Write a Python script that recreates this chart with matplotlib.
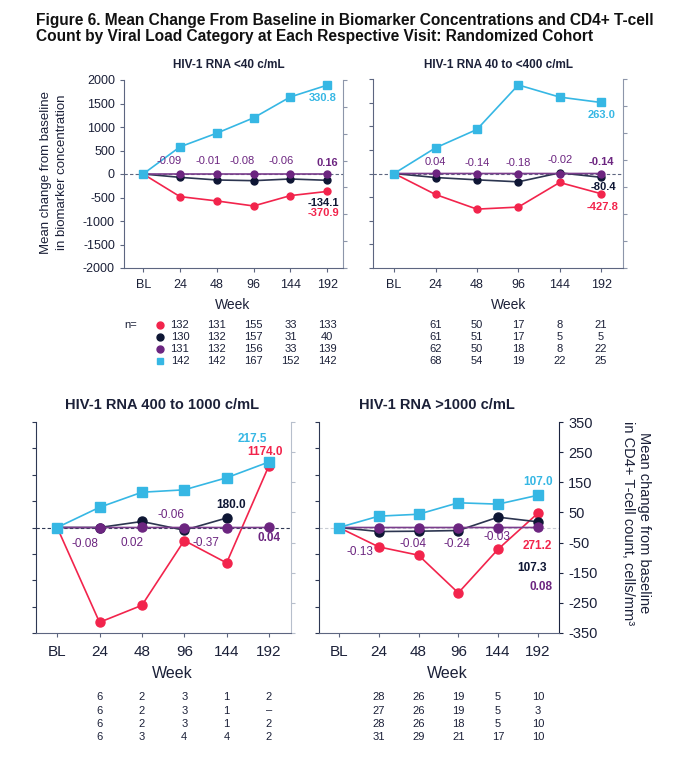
import numpy as np
import matplotlib
matplotlib.use('Agg')
import matplotlib.pyplot as plt
from matplotlib import transforms

plt.rcParams['font.family'] = ['Liberation Sans', 'DejaVu Sans']
plt.rcParams['axes.unicode_minus'] = False

weeks = ['BL', '24', '48', '96', '144', '192']

# biomarker change (left axis: red, navy, purple) and CD4 change (right axis: cyan)
red_a = [0, -481, -573, -680, -460, -370.9]
navy_a = [0, -71, -127, -142, -106, -134.1]
purple_a = [0, -0.09, -0.01, -0.08, -0.06, 0.16]
cd4_a = [0, 101, 152, 209, 287, 330.8]

red_b = [0, -444, -754, -711, -190, -427.8]
navy_b = [0, -85, -134, -176, 14, -80.4]
purple_b = [0, 0.04, -0.14, -0.18, -0.02, -0.14]
cd4_b = [0, 95, 163, 328, 283, 263.0]

red_c = [0, -1797, -1475, -247, -671, 1174.0]
navy_c = [0, 0, 114, -51, 180.0, np.nan]
purple_c = [0, -0.08, 0.02, -0.06, -0.37, 0.04]
cd4_c = [0, 67, 117, 125, 165, 217.5]

red_d = [0, -367, -525, -1240, -411, 271.2]
navy_d = [0, -76, -70, -57, 196, 107.3]
purple_d = [0, -0.13, -0.04, -0.24, -0.03, 0.08]
cd4_d = [0, 37.6, 44, 82, 77.5, 107.0]

# n per visit (rows: red, navy, purple, cyan)
n_a = [[132, 131, 155, 33, 133], [130, 132, 157, 31, 40], [131, 132, 156, 33, 139], [142, 142, 167, 152, 142]]
n_b = [[61, 50, 17, 8, 21], [61, 51, 17, 5, 5], [62, 50, 18, 8, 22], [68, 54, 19, 22, 25]]
n_c = [[6, 2, 3, 1, 2], [6, 2, 3, 1, '\u2013'], [6, 2, 3, 1, 2], [6, 3, 4, 4, 2]]
n_d = [[28, 26, 19, 5, 10], [27, 26, 19, 5, 3], [28, 26, 18, 5, 10], [31, 29, 21, 17, 10]]

titles = ['HIV-1 RNA <40 c/mL', 'HIV-1 RNA 40 to <400 c/mL',
          'HIV-1 RNA 400 to 1000 c/mL', 'HIV-1 RNA >1000 c/mL']

RED = '#f2244c'
NAVY = '#0e1634'
PURPLE = '#6c2580'
CYAN = '#36b7e4'
TXT = '#1b2038'
W, H = 688, 766

fig = plt.figure(figsize=(W / 100, H / 100), dpi=100)


def fx(x):
    return x / W


def fy(y):
    return 1 - y / H


def make_axes(l, r, t, b):
    return fig.add_axes([fx(l), fy(b), (r - l) / W, (b - t) / H])


def cd4_scaled(v):
    # CD4 series drawn on the biomarker axis through the ratio of the two scales
    return np.asarray(v, dtype=float) * 2000 / 350


def panel(box, red, navy, purple, cd4, big, xlim, spine_l, spine_r, zero_c):
    ax = make_axes(*box)
    ax2 = ax.twinx()
    ax.set_zorder(ax2.get_zorder() + 1)
    ax.patch.set_visible(False)
    x = np.arange(6)
    ms_c = 6.5 if big else 5
    ms_s = 7.5 if big else 6
    ax.axhline(0, color=zero_c, lw=0.8, ls=(0, (3, 2)), zorder=1)
    ax.plot(x, red, color=RED, lw=1.2, marker='o', ms=ms_c, zorder=3)
    ax.plot(x, navy, color='#2c3550', lw=1.2, marker='o', ms=ms_c, mfc=NAVY, mec=NAVY, zorder=4)
    ax.plot(x, purple, color='#7b3d8c', lw=1.2, marker='o', ms=ms_c, mfc=PURPLE, mec=PURPLE, zorder=5)
    ax.plot(x, cd4_scaled(cd4), color=CYAN, lw=1.2, marker='s', ms=ms_s, zorder=6)
    ax.set_ylim(-2000, 2000)
    ax2.set_ylim(-350, 350)
    ax.set_xlim(*xlim)
    ax.set_yticks(range(-2000, 2001, 500))
    ax2.set_yticks(range(-350, 351, 100))
    ax.set_xticks(x)
    ax.set_xticklabels(weeks)
    fs = 11 if big else 9
    ax.tick_params(axis='x', length=3, color='#5d6680', labelsize=fs, labelcolor=TXT, pad=6 if big else 5)
    ax.tick_params(axis='y', length=3, color=spine_l, labelsize=9, labelcolor=TXT, labelleft=False)
    ax2.tick_params(axis='y', length=3, color=spine_r, labelsize=10.5, labelcolor=TXT, labelright=False)
    for s in ['top', 'right']:
        ax.spines[s].set_visible(False)
    for s in ['top', 'left', 'bottom']:
        ax2.spines[s].set_visible(False)
    ax.spines['left'].set_color(spine_l)
    ax.spines['bottom'].set_color('#5d6680')
    ax2.spines['right'].set_color(spine_r)
    return ax, ax2


def label(ax, xi, yv, txt, color, dx, dy, bold=False, fs=8.5):
    ax.annotate(txt, xy=(xi, yv), xytext=(dx, dy), textcoords='offset pixels',
                ha='center', va='center', color=color, fontsize=fs,
                fontweight='bold' if bold else 'normal', annotation_clip=False, zorder=10)


def table(ax, rows, y0, dy, fs, marks=False):
    tr = transforms.blended_transform_factory(ax.transData, fig.transFigure)
    cols = [RED, NAVY, PURPLE, CYAN]
    for r, row in enumerate(rows):
        yy = fy(y0 + r * dy)
        for c, v in enumerate(row):
            ax.text(c + 1, yy, str(v), transform=tr, ha='center', va='center', fontsize=fs, color=TXT)
        if marks:
            ax.plot([0.46], [yy], transform=tr, marker='s' if r == 3 else 'o', ms=5,
                    color=cols[r], clip_on=False, scalex=False, scaley=False)
    if marks:
        ax.text(-0.35, fy(y0), 'n=', transform=tr, ha='center', va='center', fontsize=fs, color=TXT)


# ---- top left
axA, axA2 = panel((124, 343, 80, 268), red_a, navy_a, purple_a, cd4_a, False, (-0.52, 5.43),
                  '#5d6680', '#8d96aa', '#5d6680')
axA.tick_params(axis='y', labelleft=True)
for i, (dx, dy) in zip(range(1, 5), [(-11, 13), (-9, 13), (-11, 13), (-9, 13)]):
    label(axA, i, purple_a[i], f'{purple_a[i]:.2f}', PURPLE, dx, dy, fs=8)
label(axA, 5, purple_a[5], f'{purple_a[5]:.2f}', PURPLE, 0, 11, True, fs=8)
label(axA, 5, navy_a[5], f'{navy_a[5]:.1f}', NAVY, -4, -23, True, fs=8)
label(axA, 5, red_a[5], f'{red_a[5]:.1f}', RED, -4, -22, True, fs=8)
label(axA, 5, cd4_scaled(cd4_a)[5], f'{cd4_a[5]:.1f}', CYAN, -4, -13, True, fs=8)
table(axA, n_a, 325, 12, 8, marks=True)

# ---- top right
axB, axB2 = panel((373, 623, 79, 268), red_b, navy_b, purple_b, cd4_b, False, (-0.51, 5.53),
                  '#5d6680', '#8d96aa', '#5d6680')
for i, dy in zip(range(1, 5), [11, 11, 11, 14]):
    label(axB, i, purple_b[i], f'{purple_b[i]:.2f}', PURPLE, 0, dy, fs=8)
label(axB, 5, purple_b[5], f'{purple_b[5]:.2f}', PURPLE, 0, 12, True, fs=8)
label(axB, 5, navy_b[5], f'{navy_b[5]:.1f}', NAVY, 2, -10, True, fs=8)
label(axB, 5, red_b[5], f'{red_b[5]:.1f}', RED, 1, -13, True, fs=8)
label(axB, 5, cd4_scaled(cd4_b)[5], f'{cd4_b[5]:.1f}', CYAN, 0, -13, True, fs=8)
table(axB, n_b, 325, 12, 8)

# ---- bottom left
axC, axC2 = panel((36, 291, 422, 633), red_c, navy_c, purple_c, cd4_c, True, (-0.5, 5.52),
                  '#2e3854', '#b7bfcc', '#2e3854')
for i, (dx, dy) in zip(range(1, 5), [(-15, -16), (-10, -16), (-13, 13), (-21, -15)]):
    label(axC, i, purple_c[i], f'{purple_c[i]:.2f}', PURPLE, dx, dy)
label(axC, 5, purple_c[5], f'{purple_c[5]:.2f}', PURPLE, 0, -11, True)
label(axC, 4, navy_c[4], f'{navy_c[4]:.1f}', NAVY, 4, 13, True)
label(axC, 5, red_c[5], f'{red_c[5]:.1f}', RED, -4, 14, True)
label(axC, 5, cd4_scaled(cd4_c)[5], f'{cd4_c[5]:.1f}', CYAN, -17, 23, True)
table(axC, n_c, 697, 13.5, 8)

# ---- bottom right
axD, axD2 = panel((319, 559, 422, 633), red_d, navy_d, purple_d, cd4_d, True, (-0.5, 5.53),
                  '#2e3854', '#1b2440', '#c8ccd4')
axD2.tick_params(axis='y', labelright=True)
for i, (dx, dy) in zip(range(1, 5), [(-19, -24), (-6, -16), (-1, -16), (-1, -9)]):
    label(axD, i, purple_d[i], f'{purple_d[i]:.2f}', PURPLE, dx, dy)
label(axD, 5, purple_d[5], f'{purple_d[5]:.2f}', PURPLE, 3, -60, True)
label(axD, 5, navy_d[5], f'{navy_d[5]:.1f}', NAVY, -6, -46, True)
label(axD, 5, red_d[5], f'{red_d[5]:.1f}', RED, -1, -33, True)
label(axD, 5, cd4_scaled(cd4_d)[5], f'{cd4_d[5]:.1f}', CYAN, 0, 13, True)
table(axD, n_d, 697, 13.5, 8)

# ---- texts
for yy, line in zip([20, 37], ['Figure 6. Mean Change From Baseline in Biomarker Concentrations and CD4+ T-cell',
                               'Count by Viral Load Category at Each Respective Visit: Randomized Cohort']):
    fig.text(fx(36), fy(yy), line, fontsize=11.2, fontweight='bold', va='center', color='#111111')

for (cx, cy), t, fs in zip([(229, 65), (499, 65), (162, 405), (437, 405)], titles, [8.5, 8.5, 10.5, 10.5]):
    fig.text(fx(cx), fy(cy), t, ha='center', va='center', fontsize=fs, fontweight='bold', color=TXT)

for (cx, cy), fs in zip([(233, 305), (509, 305), (172, 673), (447, 673)], [10, 10, 11.5, 11.5]):
    fig.text(fx(cx), fy(cy), 'Week', ha='center', va='center', fontsize=fs, color=TXT)

fig.text(fx(54), fy(172), 'Mean change from baseline\nin biomarker concentration', rotation=90,
         ha='center', va='center', multialignment='center', fontsize=9.5, color=TXT, linespacing=1.35)
fig.text(fx(636), fy(523), 'Mean change from baseline\nin CD4+ T-cell count, cells/mm\u00b3', rotation=270,
         ha='center', va='center', multialignment='center', fontsize=10.5, color=TXT, linespacing=1.25)

fig.savefig('out.png', dpi=100)
